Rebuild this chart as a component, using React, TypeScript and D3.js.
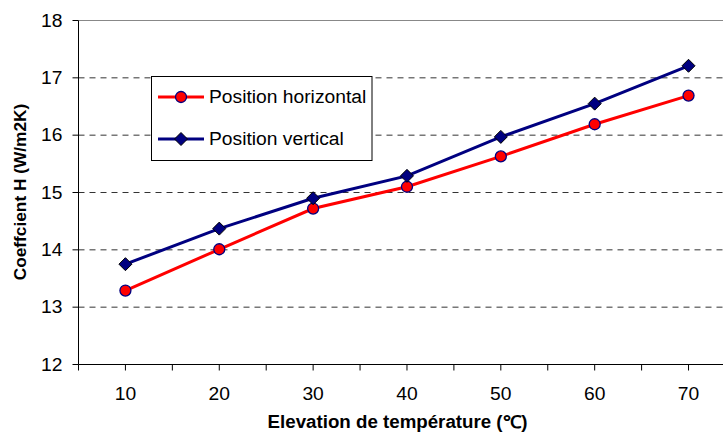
import React from "react";
import * as d3 from "d3";

const categories = [10, 20, 30, 40, 50, 60, 70];
const horizontal = [13.29, 14.01, 14.72, 15.1, 15.63, 16.19, 16.69];
const vertical = [13.75, 14.37, 14.9, 15.29, 15.97, 16.55, 17.21];
const yTicks = [12, 13, 14, 15, 16, 17, 18];
const seriesNames = ["Position horizontal", "Position vertical"];

const SX = 1.07;

function T(props: { x: number; y: number; anchor?: string; size?: number; bold?: boolean; children: React.ReactNode; dy?: string }) {
  const { x, y, anchor = "start", size = 18, bold = false, children, dy } = props;
  return (
    <g transform={`translate(${x},${y}) scale(${SX},1)`}>
      <text x={0} y={0} dy={dy} textAnchor={anchor} fontSize={size} fontWeight={bold ? "bold" : "normal"}>{children}</text>
    </g>
  );
}

export default function App() {
  const W = 723, H = 433;
  const left = 78.5, band = 93.85;
  const x = d3.scaleBand<number>().domain(categories).range([left, left + band * categories.length]).padding(0);
  const cx = (c: number) => (x(c) as number) + band / 2;
  const y = d3.scaleLinear().domain([12, 18]).range([364.5, 20.5]);
  const right = left + band * categories.length;
  const line = d3.line<number>().x((_, i) => cx(categories[i])).y((d) => y(d));
  const font = "Liberation Sans, Arial, sans-serif";
  const halfTicks: number[] = [];
  for (let i = 0; i <= categories.length * 2; i++) halfTicks.push(left + (i * band) / 2);
  const diamond = (px: number, py: number, r: number) => `M${px},${py - r}L${px + r},${py}L${px},${py + r}L${px - r},${py}Z`;
  return (
    <svg width={W} height={H} style={{ position: "absolute", left: 0, top: 0, background: "#fff" }} fontFamily={font}>
      <rect x={0} y={0} width={W} height={H} fill="#fff" />
      {yTicks.map((t) =>
        t === 18 ? (
          <line key={t} x1={left} x2={right} y1={y(t)} y2={y(t)} stroke="#888" strokeWidth={1} />
        ) : t === 12 ? null : (
          <line key={t} x1={left} x2={right} y1={y(t)} y2={y(t)} stroke="#333" strokeWidth={1} strokeDasharray="6,5" />
        )
      )}
      <line x1={left} x2={left} y1={y(18)} y2={y(12)} stroke="#000" strokeWidth={1} />
      {yTicks.map((t) => (
        <g key={t}>
          <line x1={left - 6} x2={left} y1={y(t)} y2={y(t)} stroke="#000" />
          <T x={62.5} y={y(t) + 6.3} anchor="end">{t}</T>
        </g>
      ))}
      <line x1={left} x2={right} y1={y(12)} y2={y(12)} stroke="#000" strokeWidth={1} />
      {halfTicks.map((t, i) => (
        <line key={i} x1={t} x2={t} y1={y(12)} y2={y(12) + 6} stroke="#000" />
      ))}
      {categories.map((c) => (
        <T key={c} x={cx(c)} y={400} anchor="middle">{c}</T>
      ))}
      <path d={line(horizontal) || ""} fill="none" stroke="#ff0000" strokeWidth={3} />
      <path d={line(vertical) || ""} fill="none" stroke="#000080" strokeWidth={3} />
      {horizontal.map((v, i) => (
        <circle key={i} cx={cx(categories[i])} cy={y(v)} r={5.5} fill="#ff0000" stroke="#000080" strokeWidth={1.3} />
      ))}
      {vertical.map((v, i) => (
        <path key={i} d={diamond(cx(categories[i]), y(v), 6.5)} fill="#000080" stroke="#000" strokeWidth={1} />
      ))}
      <rect x={151.5} y={76.5} width={220.5} height={84} fill="#fff" stroke="#000" strokeWidth={1} />
      <line x1={158} x2={204} y1={97} y2={97} stroke="#ff0000" strokeWidth={3} />
      <circle cx={181} cy={97} r={5.5} fill="#ff0000" stroke="#000080" strokeWidth={1.3} />
      <T x={209} y={102.5}>{seriesNames[0]}</T>
      <line x1={158} x2={204} y1={139} y2={139} stroke="#000080" strokeWidth={3} />
      <path d={diamond(181, 139, 6.5)} fill="#000080" stroke="#000" strokeWidth={1} />
      <T x={209} y={144.5}>{seriesNames[1]}</T>
      <text transform={`translate(26,192) rotate(-90)`} textAnchor="middle" fontSize={17.3} fontWeight="bold">Coeffcient H (W/m2K)</text>
      <T x={397.5} y={428} anchor="middle" size={17.5} bold>Elevation de température (℃)</T>
    </svg>
  );
}
